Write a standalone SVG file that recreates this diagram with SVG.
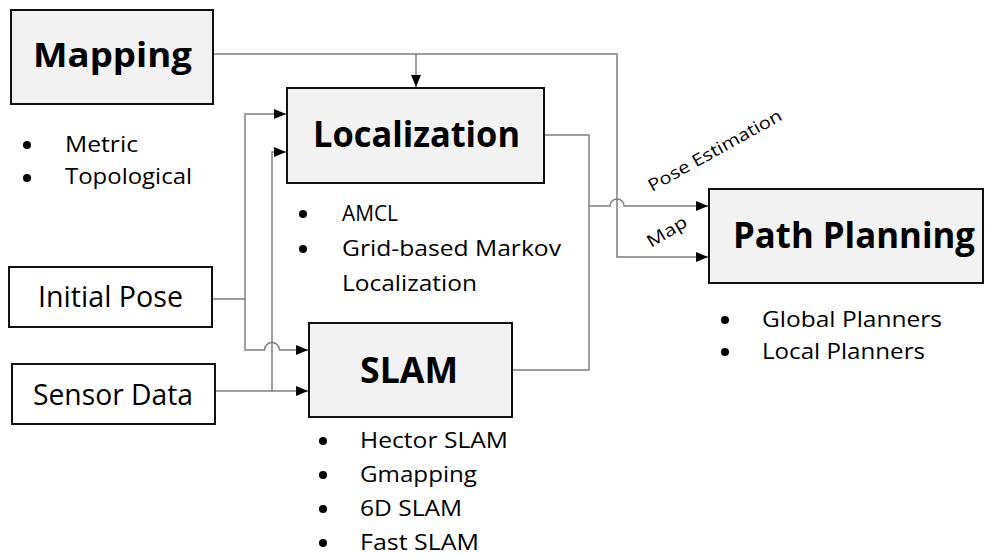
<svg xmlns="http://www.w3.org/2000/svg" width="989" height="557" viewBox="0 0 989 557">
  <style>
    .box { fill: #f2f2f2; stroke: #111; stroke-width: 2; }
    .plain { fill: #ffffff; stroke: #111; stroke-width: 2; }
    .title { font-family: "Open Sans", "Noto Sans", sans-serif; font-weight: bold; fill: #000; }
    .txt { font-family: "Open Sans", "Noto Sans", sans-serif; fill: #000; }
    .item { font-family: "Open Sans", "Noto Sans", sans-serif; font-size: 21px; fill: #000; }
    .lbl { font-family: "Open Sans", "Noto Sans", sans-serif; font-size: 17px; fill: #000; }
    .wire { fill: none; stroke: #7f7f7f; stroke-width: 1.5; }
    .dot { fill: #000; }
  </style>
  <defs>
    <marker id="arrow" markerUnits="userSpaceOnUse" markerWidth="12" markerHeight="10" refX="12" refY="5" orient="auto">
      <path d="M0,0 L12,5 L0,10 z" fill="#000"/>
    </marker>
  </defs>

  <!-- connectors -->
  <g id="connectors">
    <!-- Mapping to Path Planning (Map) -->
    <path class="wire" d="M213,54 H617 V257 H708" marker-end="url(#arrow)"/>
    <!-- Mapping to Localization -->
    <path class="wire" d="M416,54 V87" marker-end="url(#arrow)"/>
    <!-- Initial Pose to Localization -->
    <path class="wire" d="M212,299 H245 V114 H286" marker-end="url(#arrow)"/>
    <!-- Initial Pose to SLAM, hopping over the sensor line -->
    <path class="wire" d="M245,299 V350 H264.5 A7.5,7.5 0 0 1 279.5,350 H308" marker-end="url(#arrow)"/>
    <!-- Sensor Data to SLAM -->
    <path class="wire" d="M215,391 H308" marker-end="url(#arrow)"/>
    <!-- Sensor Data to Localization -->
    <path class="wire" d="M272,391 V152 H286" marker-end="url(#arrow)"/>
    <!-- Localization and SLAM outputs -->
    <path class="wire" d="M544,135 H589 V370 H512"/>
    <!-- Pose Estimation to Path Planning, hopping over the map line -->
    <path class="wire" d="M589,206 H610 A7,7 0 0 1 624,206 H708" marker-end="url(#arrow)"/>
    <text class="lbl" x="652" y="192" transform="rotate(-29 652 192)" textLength="150" lengthAdjust="spacingAndGlyphs">Pose Estimation</text>
    <text class="lbl" x="651" y="248" transform="rotate(-31 651 248)" textLength="44" lengthAdjust="spacingAndGlyphs">Map</text>
  </g>

  <!-- Mapping -->
  <g id="mapping">
    <rect class="box" x="11" y="10" width="202" height="94"/>
    <text class="title" x="33" y="67" font-size="34" textLength="159" lengthAdjust="spacingAndGlyphs">Mapping</text>
    <circle class="dot" cx="27" cy="145" r="4"/>
    <text class="item" x="65" y="152" textLength="73" lengthAdjust="spacingAndGlyphs">Metric</text>
    <circle class="dot" cx="27" cy="178" r="4"/>
    <text class="item" x="65" y="184" textLength="127" lengthAdjust="spacingAndGlyphs">Topological</text>
  </g>

  <!-- Localization -->
  <g id="localization">
    <rect class="box" x="287" y="88" width="257" height="95"/>
    <text class="title" x="313" y="147" font-size="35" textLength="207" lengthAdjust="spacingAndGlyphs">Localization</text>
    <circle class="dot" cx="303" cy="214" r="4"/>
    <text class="item" x="342" y="221" textLength="56" lengthAdjust="spacingAndGlyphs">AMCL</text>
    <circle class="dot" cx="303" cy="249" r="4"/>
    <text class="item" x="342" y="256" textLength="219" lengthAdjust="spacingAndGlyphs">Grid-based Markov</text>
    <text class="item" x="342" y="291" textLength="135" lengthAdjust="spacingAndGlyphs">Localization</text>
  </g>

  <!-- Initial Pose -->
  <g id="initial-pose">
    <rect class="plain" x="9" y="267" width="203" height="60"/>
    <text class="txt" x="38" y="307" font-size="29" textLength="145" lengthAdjust="spacingAndGlyphs">Initial Pose</text>
  </g>

  <!-- Sensor Data -->
  <g id="sensor-data">
    <rect class="plain" x="12" y="364" width="203" height="60"/>
    <text class="txt" x="33" y="405" font-size="29" textLength="160" lengthAdjust="spacingAndGlyphs">Sensor Data</text>
  </g>

  <!-- SLAM -->
  <g id="slam">
    <rect class="box" x="309" y="323" width="203" height="94"/>
    <text class="title" x="360" y="383" font-size="36" textLength="98" lengthAdjust="spacingAndGlyphs">SLAM</text>
    <circle class="dot" cx="323" cy="441" r="4"/>
    <text class="item" x="360" y="448" textLength="148" lengthAdjust="spacingAndGlyphs">Hector SLAM</text>
    <circle class="dot" cx="323" cy="475" r="4"/>
    <text class="item" x="360" y="482" textLength="117" lengthAdjust="spacingAndGlyphs">Gmapping</text>
    <circle class="dot" cx="323" cy="509" r="4"/>
    <text class="item" x="360" y="516" textLength="102" lengthAdjust="spacingAndGlyphs">6D SLAM</text>
    <circle class="dot" cx="323" cy="543" r="4"/>
    <text class="item" x="360" y="550" textLength="119" lengthAdjust="spacingAndGlyphs">Fast SLAM</text>
  </g>

  <!-- Path Planning -->
  <g id="path-planning">
    <rect class="box" x="709" y="189" width="274" height="94"/>
    <text class="title" x="733" y="248" font-size="35" textLength="242" lengthAdjust="spacingAndGlyphs">Path Planning</text>
    <circle class="dot" cx="725" cy="320" r="4"/>
    <text class="item" x="762" y="327" textLength="180" lengthAdjust="spacingAndGlyphs">Global Planners</text>
    <circle class="dot" cx="725" cy="352" r="4"/>
    <text class="item" x="762" y="359" textLength="163" lengthAdjust="spacingAndGlyphs">Local Planners</text>
  </g>
</svg>
